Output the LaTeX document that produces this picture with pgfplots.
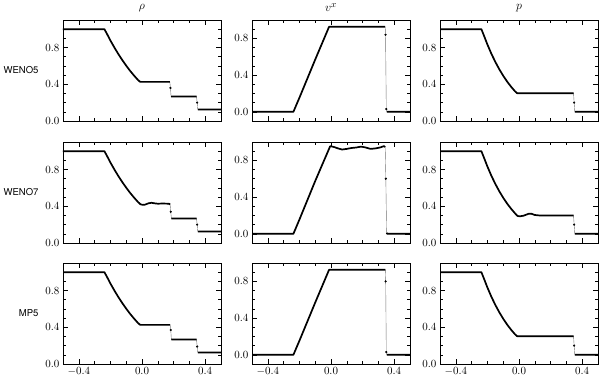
\documentclass[border=0pt]{standalone}
\usepackage{fontspec}
\usepackage{pgfplots}
\usepackage{pgfplotstable}
\pgfplotsset{compat=1.18}
\newfontfamily\hv{TeX Gyre Heros}

% rows: WENO5, WENO7, MP5 ; columns: rho, v^x, p
\pgfplotstableread{
x y
-0.5 1.0
-0.238 1.0
-0.225 0.960
-0.2 0.877
-0.175 0.801
-0.15 0.730
-0.125 0.664
-0.1 0.603
-0.075 0.546
-0.05 0.494
-0.025 0.446
-0.012 0.427
0.0 0.426
0.176 0.426
nan nan
0.180 0.36
nan nan
0.184 0.266
0.345 0.266
nan nan
0.349 0.20
nan nan
0.353 0.125
0.5 0.125
}\rhoA
\pgfplotstableread{
x y
-0.5 0.0
-0.238 0.0
-0.2 0.153
-0.1 0.569
-0.012 0.927
0.343 0.927
nan nan
0.345 0.84
nan nan
0.350 0.03
nan nan
0.353 0.0
0.5 0.0
}\velA
\pgfplotstableread{
x y
-0.5 1.0
-0.238 1.0
-0.225 0.944
-0.2 0.833
-0.175 0.733
-0.15 0.644
-0.125 0.564
-0.1 0.493
-0.075 0.429
-0.05 0.373
-0.025 0.323
-0.012 0.303
0.345 0.303
nan nan
0.349 0.20
nan nan
0.353 0.1
0.5 0.1
}\preA

\pgfplotstableread{
x y
-0.5 1.0
-0.238 1.0
-0.225 0.960
-0.2 0.877
-0.175 0.801
-0.15 0.730
-0.125 0.664
-0.1 0.603
-0.075 0.546
-0.05 0.494
-0.025 0.446
-0.01 0.422
0.005 0.415
0.02 0.418
0.04 0.432
0.06 0.438
0.08 0.432
0.10 0.428
0.13 0.430
0.17 0.428
0.178 0.42
nan nan
0.182 0.34
nan nan
0.186 0.268
0.22 0.266
0.26 0.268
0.345 0.266
nan nan
0.349 0.20
nan nan
0.353 0.125
0.5 0.125
}\rhoB
\pgfplotstableread{
x y
-0.5 0.0
-0.238 0.0
-0.2 0.155
-0.1 0.575
-0.005 0.955
0.02 0.945
0.045 0.930
0.07 0.918
0.10 0.925
0.13 0.935
0.16 0.940
0.19 0.950
0.22 0.940
0.25 0.925
0.28 0.930
0.31 0.940
0.335 0.955
0.343 0.945
nan nan
0.347 0.60
nan nan
0.352 0.01
0.356 0.0
0.5 0.0
}\velB
\pgfplotstableread{
x y
-0.5 1.0
-0.238 1.0
-0.225 0.944
-0.2 0.833
-0.175 0.733
-0.15 0.644
-0.125 0.564
-0.1 0.493
-0.075 0.429
-0.05 0.373
-0.025 0.323
-0.01 0.295
0.005 0.290
0.03 0.298
0.06 0.318
0.08 0.318
0.10 0.305
0.13 0.300
0.345 0.300
nan nan
0.349 0.20
nan nan
0.353 0.1
0.5 0.1
}\preB

\pgfplotstableread{
x y
-0.5 1.0
-0.238 1.0
-0.225 0.960
-0.2 0.877
-0.175 0.801
-0.15 0.730
-0.125 0.664
-0.1 0.603
-0.075 0.546
-0.05 0.494
-0.025 0.446
-0.012 0.427
0.0 0.426
0.178 0.426
nan nan
0.182 0.37
nan nan
0.186 0.266
0.345 0.266
nan nan
0.349 0.19
nan nan
0.353 0.125
0.5 0.125
}\rhoC
\pgfplotstableread{
x y
-0.5 0.0
-0.238 0.0
-0.2 0.153
-0.1 0.569
-0.012 0.927
0.344 0.927
nan nan
0.346 0.80
nan nan
0.350 0.03
nan nan
0.353 0.0
0.5 0.0
}\velC
\pgfplotstableread{
x y
-0.5 1.0
-0.238 1.0
-0.225 0.944
-0.2 0.833
-0.175 0.733
-0.15 0.644
-0.125 0.564
-0.1 0.493
-0.075 0.429
-0.05 0.373
-0.025 0.323
-0.012 0.303
0.345 0.303
nan nan
0.349 0.20
nan nan
0.353 0.1
0.5 0.1
}\preC

\pgfplotsset{
  panel/.style={
    scale only axis, width=158pt, height=101pt,
    anchor=north west,
    xmin=-0.5, xmax=0.5,
    xtick={-0.4,0,0.4},
    minor xtick={-0.3,-0.2,-0.1,0.1,0.2,0.3},
    tick pos=both,
    tick align=inside,
    major tick length=5pt, minor tick length=3pt,
    every tick/.style={black, line width=0.5pt},
    axis line style={line width=0.7pt},
    ticklabel style={font=\fontsize{11}{12}\selectfont},
    title style={font=\fontsize{13}{14}\selectfont, at={(0.5,1)}, anchor=south, inner sep=0pt, yshift=2pt},
    every axis y label/.style={at={(rel axis cs:0,0.5)}, anchor=east, xshift=-21pt, font=\hv\fontsize{9.5}{11}\selectfont},
    xticklabel style={/pgf/number format/.cd, fixed, fixed zerofill, precision=1},
    yticklabel style={/pgf/number format/.cd, fixed, fixed zerofill, precision=1},
  },
  dens/.style={ymin=0, ymax=1.1, ytick={0,0.4,0.8}, minor ytick={0.1,0.2,0.3,0.5,0.6,0.7,0.9,1.0}},
  vel/.style={ymin=-0.1, ymax=1.0, ytick={0,0.4,0.8}, minor ytick={-0.1,0.1,0.2,0.3,0.5,0.6,0.7,0.9}},
  nox/.style={xticklabels={}},
  thin/.style={black!55, line width=0.4pt, unbounded coords=discard},
  thick/.style={black, line width=1.7pt, unbounded coords=jump, line join=round},
  dots/.style={only marks, mark=*, mark size=0.9pt, black},
}

\begin{document}
\begin{tikzpicture}
\useasboundingbox (0,0) rectangle (600pt,-378pt);

% ---- row 1: WENO5
\begin{axis}[panel, dens, nox, at={(63pt,-20pt)}, title={$\rho$}, ylabel={WENO5}]
\addplot[thin] table {\rhoA};
\addplot[thick] table {\rhoA};
\addplot[dots] coordinates {(0.180,0.36) (0.349,0.20)};
\end{axis}
\begin{axis}[panel, vel, nox, at={(252pt,-20pt)}, title={$v^x$}]
\addplot[thin] table {\velA};
\addplot[thick] table {\velA};
\addplot[dots] coordinates {(0.345,0.84) (0.350,0.03)};
\end{axis}
\begin{axis}[panel, dens, nox, at={(440pt,-20pt)}, title={$p$}]
\addplot[thin] table {\preA};
\addplot[thick] table {\preA};
\addplot[dots] coordinates {(0.349,0.20)};
\end{axis}

% ---- row 2: WENO7
\begin{axis}[panel, dens, nox, at={(63pt,-142pt)}, ylabel={WENO7}]
\addplot[thin] table {\rhoB};
\addplot[thick] table {\rhoB};
\addplot[dots] coordinates {(0.182,0.34) (0.349,0.20)};
\end{axis}
\begin{axis}[panel, vel, nox, at={(252pt,-142pt)}]
\addplot[thin] table {\velB};
\addplot[thick] table {\velB};
\addplot[dots] coordinates {(0.347,0.60)};
\end{axis}
\begin{axis}[panel, dens, nox, at={(440pt,-142pt)}]
\addplot[thin] table {\preB};
\addplot[thick] table {\preB};
\addplot[dots] coordinates {(0.349,0.20)};
\end{axis}

% ---- row 3: MP5
\begin{axis}[panel, dens, at={(63pt,-263pt)}, ylabel={MP5}]
\addplot[thin] table {\rhoC};
\addplot[thick] table {\rhoC};
\addplot[dots] coordinates {(0.182,0.37) (0.349,0.19)};
\end{axis}
\begin{axis}[panel, vel, at={(252pt,-263pt)}]
\addplot[thin] table {\velC};
\addplot[thick] table {\velC};
\addplot[dots] coordinates {(0.346,0.80) (0.350,0.03)};
\end{axis}
\begin{axis}[panel, dens, at={(440pt,-263pt)}]
\addplot[thin] table {\preC};
\addplot[thick] table {\preC};
\addplot[dots] coordinates {(0.349,0.20)};
\end{axis}
\end{tikzpicture}
\end{document}
